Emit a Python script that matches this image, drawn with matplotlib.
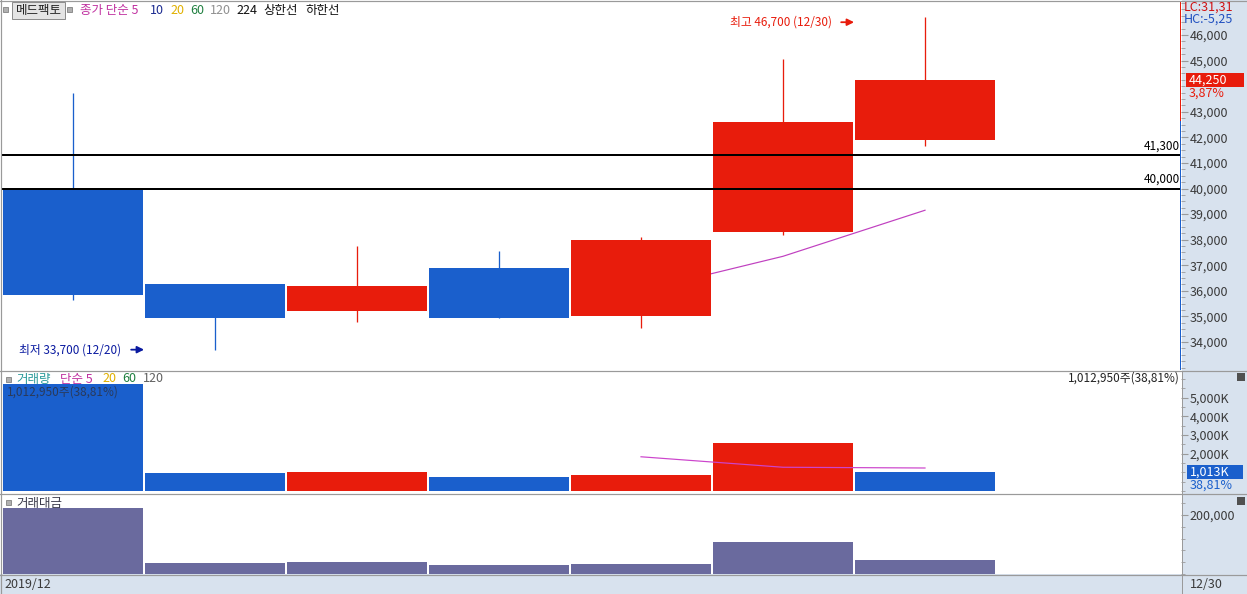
import matplotlib
matplotlib.use("Agg")
import matplotlib.pyplot as plt
from matplotlib.lines import Line2D
from matplotlib.patches import Rectangle
from matplotlib.ticker import FuncFormatter, MultipleLocator, FixedLocator

plt.rcParams['font.family'] = ['Noto Sans CJK KR', 'DejaVu Sans']

# daily candles, 2019/12
dates = ['12/19', '12/20', '12/23', '12/24', '12/26', '12/27', '12/30']
opens = [40000, 36250, 35200, 36900, 35000, 38300, 41900]
highs = [43750, 36250, 37750, 37550, 38100, 45050, 46700]
lows = [35650, 33700, 34800, 34950, 34550, 38200, 41650]
closes = [35850, 34950, 36200, 34950, 38000, 42600, 44250]
ma5 = [36000, 37350, 39150]          # starts at 5th candle
hlines = [41300, 40000]
prev_close = 42600
price_ticks = [34000, 35000, 36000, 37000, 38000, 39000, 40000, 41000, 42000, 43000, 45000, 46000]

volume = [5720, 980, 1000, 775, 830, 2590, 1013]   # thousand shares
vol_ma5 = [1830, 1270, 1230]
value = [224000, 37000, 40000, 30000, 34000, 108000, 47000]  # million won

W, H = 1247, 594
RED = '#E81C0C'
BLUE = '#1A5FCC'
NAVY = '#0A1AA0'
PANEL = '#D8E2EE'
GRAY = '#9A9A9A'
TXT = '#3A3A3A'


def box(l, t, r, b):
    return [l / W, 1 - b / H, (r - l) / W, (b - t) / H]


def fx(px):
    return px / W


def fy(py):
    return 1 - py / H


def px(n):
    return n * 0.72


fig = plt.figure(figsize=(W / 100, H / 100), dpi=100, facecolor=PANEL)

fig.add_artist(Rectangle((0, fy(574)), fx(1182), fy(0) - fy(574),
                         transform=fig.transFigure, facecolor='white', edgecolor='none', zorder=0))

ax = fig.add_axes(box(2, 2, 1181, 370))
axv = fig.add_axes(box(2, 372, 1181, 492))
axa = fig.add_axes(box(2, 495, 1181, 574))

xl = (-0.5, -0.5 + 1179 / 142)
for a in (ax, axv, axa):
    a.set_xlim(*xl)
    a.set_facecolor('white')
    a.set_xticks([])
    for s in a.spines.values():
        s.set_visible(False)
    a.yaxis.tick_right()
    a.tick_params(axis='y', which='both', direction='out', colors=GRAY,
                  labelcolor=TXT, labelsize=9, pad=1)
    a.tick_params(axis='y', which='major', length=5)
    a.tick_params(axis='y', which='minor', length=3)

# ---- price panel
ylo = 34000 - (370 - 342) / 25.58 * 1000
yhi = 46000 + (35 - 2) / 25.58 * 1000
ax.set_ylim(ylo, yhi)
ax.yaxis.set_major_locator(FixedLocator(price_ticks))
ax.yaxis.set_minor_locator(MultipleLocator(250))
ax.yaxis.set_major_formatter(FuncFormatter(lambda v, p: f'{int(v):,}'))

xs = list(range(len(dates)))
ax.plot(xs[4:], ma5, color='#C040C0', lw=px(1.2), zorder=1)
for i in xs:
    c = RED if closes[i] >= opens[i] else BLUE
    ax.vlines(i, lows[i], highs[i], color=c, lw=px(1.3), zorder=2)
    ax.bar(i, abs(closes[i] - opens[i]), bottom=min(opens[i], closes[i]),
           width=0.99, color=c, zorder=3)

for v in hlines:
    ax.axhline(v, color='black', lw=px(2), zorder=4)
    ax.text(xl[1] - 0.01, v + 120, f'{v:,}', ha='right', va='bottom', fontsize=8.5, color='black')

frac = (prev_close - ylo) / (yhi - ylo)
ax.axvline(xl[1], ymin=frac, ymax=1, color=RED, lw=px(3), zorder=5)
ax.axvline(xl[1], ymin=0, ymax=frac, color=BLUE, lw=px(3), zorder=5)

ylow_txt = min(lows) - 0
ax.text(-0.38, ylow_txt, f'최저 {min(lows):,} (12/20)', color=NAVY, fontsize=8.5,
        va='center', ha='left')
ax.annotate('', xy=(0.52, ylow_txt), xytext=(0.39, ylow_txt),
            arrowprops=dict(arrowstyle='-|>', color=NAVY, lw=1.3, mutation_scale=10))
yhigh_txt = max(highs) - 200
ax.text(4.63, yhigh_txt, f'최고 {max(highs):,} (12/30)', color=RED, fontsize=8.5,
        va='center', ha='left')
ax.annotate('', xy=(5.52, yhigh_txt), xytext=(5.39, yhigh_txt),
            arrowprops=dict(arrowstyle='-|>', color=RED, lw=1.3, mutation_scale=10))

# ---- volume panel
v0 = 491
vs = 18.7
axv.set_ylim(-(492 - v0) / vs * 1000, (v0 - 372) / vs * 1000)
axv.yaxis.set_major_locator(FixedLocator([2000, 3000, 4000, 5000]))
axv.yaxis.set_minor_locator(MultipleLocator(500))
axv.yaxis.set_major_formatter(FuncFormatter(lambda v, p: f'{int(v):,}K'))
vcol = [BLUE] + [RED if volume[i] > volume[i - 1] else BLUE for i in xs[1:]]
axv.bar(xs, volume, width=0.99, color=vcol, zorder=2)
axv.plot(xs[4:], vol_ma5, color='#CC44CC', lw=px(1.2), zorder=3)

# ---- trading value panel
axa.set_ylim(0, (574 - 495) * 200000 / 59)
axa.yaxis.set_major_locator(FixedLocator([200000]))
axa.yaxis.set_minor_locator(MultipleLocator(40000))
axa.yaxis.set_major_formatter(FuncFormatter(lambda v, p: f'{int(v):,}'))
axa.bar(xs, value, width=0.99, color='#6A6A9E', zorder=2)

# ---- frame lines
for y in (0.5, 371, 493.5, 574.5):
    fig.add_artist(Line2D([0, 1], [fy(y), fy(y)], color=GRAY, lw=px(1.2)))
fig.add_artist(Line2D([fx(0.5), fx(0.5)], [0, 1], color=GRAY, lw=px(1.2)))
fig.add_artist(Line2D([fx(1182), fx(1182)], [0, fy(371)], color=GRAY, lw=px(1)))


# ---- header legend
def sq(x, y):
    fig.add_artist(Rectangle((fx(x), fy(y + 5)), 5 / W, 5 / H, transform=fig.transFigure,
                             facecolor='#B0B0B0', edgecolor='#707070', lw=0.5))


sq(3, 7)
fig.add_artist(Rectangle((fx(12), fy(19)), 53 / W, 17 / H, transform=fig.transFigure,
                         facecolor='#E4E4E4', edgecolor='#8A8A8A', lw=0.7))
fig.text(fx(38.5), fy(10.5), '메드팩토', ha='center', va='center', fontsize=9, color='#222')
sq(67, 7)
legend = [('종가 단순 5', '#C030A0', 80), ('10', '#1A2A90', 150), ('20', '#E0B000', 170),
          ('60', '#208040', 190), ('120', '#909090', 210), ('224', '#111111', 236),
          ('상한선', '#111111', 263), ('하한선', '#111111', 305)]
for s, c, x in legend:
    fig.text(fx(x), fy(10.5), s, color=c, fontsize=9, va='center', ha='left')

sq(6, 377)
vlegend = [('거래량', '#2A9A9A', 16), ('단순 5', '#C030A0', 60), ('20', '#E0B000', 102),
           ('60', '#208040', 122), ('120', '#606060', 143)]
for s, c, x in vlegend:
    fig.text(fx(x), fy(379), s, color=c, fontsize=9, va='center', ha='left')
vtxt = '1,012,950주(38,81%)'
fig.text(fx(1180), fy(378), vtxt, color='#222', fontsize=8.5, va='center', ha='right')
fig.text(fx(7), fy(392), vtxt, color='#2A3A5A', fontsize=8.5, va='center', ha='left')

sq(6, 500)
fig.text(fx(16), fy(503), '거래대금', color='#3A3A4A', fontsize=9, va='center', ha='left')

# ---- right axis badges
fig.text(fx(1184), fy(7), 'LC:31,31', color='#D01010', fontsize=9, va='center')
fig.text(fx(1184), fy(19), 'HC:-5,25', color='#2050C0', fontsize=9, va='center')
fig.add_artist(Rectangle((fx(1186), fy(87)), 58 / W, 14 / H, transform=fig.transFigure,
                         facecolor=RED, edgecolor='none'))
fig.text(fx(1189), fy(80), f'{closes[-1]:,}', color='white', fontsize=9, va='center')
fig.text(fx(1189), fy(93), '3,87%', color=RED, fontsize=9, va='center')
fig.add_artist(Rectangle((fx(1187), fy(479)), 56 / W, 14 / H, transform=fig.transFigure,
                         facecolor=BLUE, edgecolor='none'))
fig.text(fx(1190), fy(472), '1,013K', color='white', fontsize=9, va='center')
fig.text(fx(1190), fy(485), '38,81%', color=BLUE, fontsize=9, va='center')
for y in (377, 501):
    fig.add_artist(Rectangle((fx(1237), fy(y + 4)), 8 / W, 8 / H, transform=fig.transFigure,
                             facecolor='#505050', edgecolor='none'))

# ---- bottom date strip
fig.text(fx(4), fy(584), '2019/12', color=TXT, fontsize=9, va='center')
fig.text(fx(1190), fy(584), dates[-1], color=TXT, fontsize=9, va='center')

fig.savefig('out.png', dpi=100, facecolor=PANEL)
